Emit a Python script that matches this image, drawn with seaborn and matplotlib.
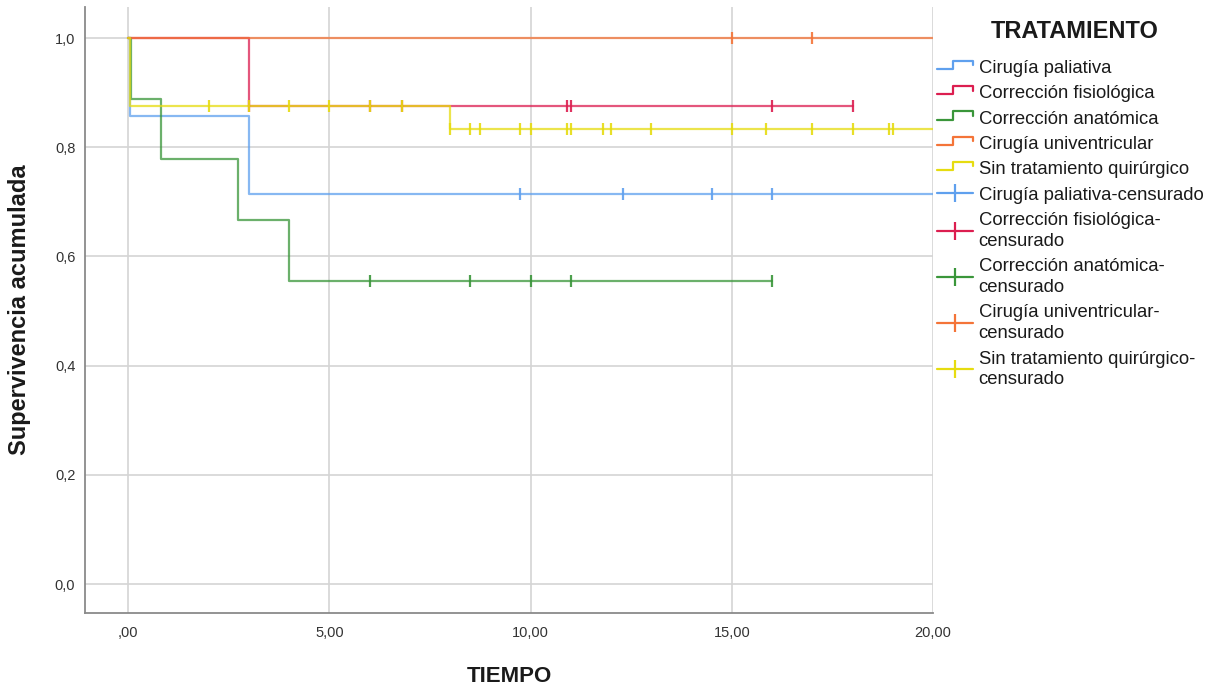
import numpy as np
import pandas as pd
import matplotlib
matplotlib.use("Agg")
import matplotlib.pyplot as plt
import seaborn as sns
from matplotlib.lines import Line2D
from matplotlib.legend_handler import HandlerBase

# ---------------- data ----------------
grupos = ["Cirugía paliativa", "Corrección fisiológica", "Corrección anatómica",
          "Cirugía univentricular", "Sin tratamiento quirúrgico"]
colores = ["#5FA0EE", "#DC1E50", "#3A963A", "#F47438", "#E6DC10"]

# step function: times where the curve changes and survival from that time on
t_paliativa = [0.0, 0.05, 3.0, 20.0]
s_paliativa = [1.0, 0.857, 0.714, 0.714]
c_paliativa = [9.75, 12.3, 14.5, 16.0]

t_fisiologica = [0.0, 3.0, 18.0]
s_fisiologica = [1.0, 0.875, 0.875]
c_fisiologica = [3.0, 6.0, 6.8, 10.9, 11.0, 16.0, 18.0]

t_anatomica = [0.0, 0.07, 0.82, 2.72, 4.0, 16.0]
s_anatomica = [1.0, 0.889, 0.778, 0.667, 0.556, 0.556]
c_anatomica = [6.0, 8.5, 10.0, 11.0, 16.0]

t_univentricular = [0.0, 20.0]
s_univentricular = [1.0, 1.0]
c_univentricular = [15.0, 17.0]

t_sin = [0.0, 0.05, 8.0, 20.0]
s_sin = [1.0, 0.875, 0.833, 0.833]
c_sin = [2.0, 3.0, 4.0, 5.0, 6.0, 6.8, 8.0, 8.5, 8.75, 9.75, 10.0, 10.9, 11.0,
         11.8, 12.0, 13.0, 15.0, 15.85, 17.0, 18.0, 18.9, 19.0]

x_ticks = [0, 5, 10, 15, 20]
x_ticklabels = [",00", "5,00", "10,00", "15,00", "20,00"]
y_ticks = [0.0, 0.2, 0.4, 0.6, 0.8, 1.0]
y_ticklabels = ["0,0", "0,2", "0,4", "0,6", "0,8", "1,0"]

# ---------------- tables ----------------
series = [(t_paliativa, s_paliativa, c_paliativa),
          (t_fisiologica, s_fisiologica, c_fisiologica),
          (t_anatomica, s_anatomica, c_anatomica),
          (t_univentricular, s_univentricular, c_univentricular),
          (t_sin, s_sin, c_sin)]

step_rows, cens_rows = [], []
for g, (t, s, c) in zip(grupos, series):
    for ti, si in zip(t, s):
        step_rows.append({"t": ti, "s": si, "grupo": g})
    t_arr = np.asarray(t)
    for ci in c:
        idx = np.searchsorted(t_arr, ci, side="right") - 1
        cens_rows.append({"t": ci, "s": s[idx], "grupo": g})
df_steps = pd.DataFrame(step_rows)
df_cens = pd.DataFrame(cens_rows)

# ---------------- style ----------------
sns.set_theme(style="white")
plt.rcParams["font.family"] = ["Liberation Sans", "DejaVu Sans"]
text_col = "#1A1A1A"

W, H = 1217, 687
fig = plt.figure(figsize=(W / 100, H / 100), dpi=100)
ax = fig.add_axes([85 / W, 1 - 613 / H, (933 - 85) / W, (613 - 7) / H])

pal = dict(zip(grupos, colores))
sns.lineplot(data=df_steps, x="t", y="s", hue="grupo", hue_order=grupos,
             palette=pal, drawstyle="steps-post", estimator=None, sort=False,
             linewidth=1.6, alpha=0.75, legend=False, ax=ax, zorder=3)
sns.scatterplot(data=df_cens, x="t", y="s", hue="grupo", hue_order=grupos,
                palette=pal, marker="|", s=75, linewidth=1.6, alpha=0.9,
                legend=False, ax=ax, zorder=4)

ax.set_xlim(-1.07, 20.0)
ax.set_ylim(-0.053, 1.057)
ax.set_xticks(x_ticks)
ax.set_xticklabels(x_ticklabels)
ax.set_yticks(y_ticks)
ax.set_yticklabels(y_ticklabels)
ax.tick_params(axis="x", length=0, pad=9.5, labelsize=10.5, labelcolor="#333333")
ax.tick_params(axis="y", length=0, pad=7, labelsize=10.5, labelcolor="#333333")
ax.grid(True, color="#D4D4D4", linewidth=1.2)
ax.set_axisbelow(True)
for side in ["top", "right"]:
    ax.spines[side].set_visible(False)
for side in ["left", "bottom"]:
    ax.spines[side].set_color("#8A8A8A")
    ax.spines[side].set_linewidth(1.3)

ax.set_xlabel("TIEMPO", fontsize=16, fontweight="bold", color=text_col)
ax.xaxis.set_label_coords(0.5, (613 - 676) / 606)
ax.xaxis.label.set_va("center")
ax.set_ylabel("Supervivencia acumulada", fontsize=17, fontweight="bold", color=text_col)
ax.yaxis.set_label_coords((20 - 85) / 848, (613 - 310) / 606)
ax.yaxis.label.set_va("center")

# ---------------- legend ----------------
class StepLine(Line2D):
    pass

class StepHandler(HandlerBase):
    def create_artists(self, legend, orig_handle, xdescent, ydescent, width,
                       height, fontsize, trans):
        x0, y0 = -xdescent, -ydescent
        xm = x0 + width * 0.45
        xs = [x0, xm, xm, x0 + width, x0 + width]
        ys = [y0 + height * 0.3, y0 + height * 0.3, y0 + height * 0.95,
              y0 + height * 0.95, y0 + height * 0.6]
        ln = Line2D(xs, ys, color=orig_handle.get_color(), linewidth=1.6)
        ln.set_transform(trans)
        return [ln]

handles, labels = [], []
for g, col in zip(grupos, colores):
    handles.append(StepLine([], [], color=col))
    labels.append(g)
for g, col in zip(grupos, colores):
    handles.append(Line2D([], [], color=col, linewidth=1.6, marker="|",
                          markersize=13, markeredgewidth=1.6))
    lab = g + "-censurado" if g == "Cirugía paliativa" else g + "-\ncensurado"
    labels.append(lab)

leg = fig.legend(handles, labels, loc="upper left",
                 bbox_to_anchor=(937 / W, 1 - 60 / H),
                 bbox_transform=fig.transFigure, frameon=False, fontsize=13.3,
                 handlelength=1.95, handletextpad=0.3, labelspacing=0.45,
                 borderpad=0, borderaxespad=0, numpoints=1,
                 handler_map={StepLine: StepHandler()})
for t in leg.get_texts():
    t.set_color(text_col)
    t.set_linespacing(1.3)

fig.text(1075 / W, 1 - 31 / H, "TRATAMIENTO", ha="center", va="center",
         fontsize=17, fontweight="bold", color=text_col)

fig.savefig("out.png", dpi=100)
